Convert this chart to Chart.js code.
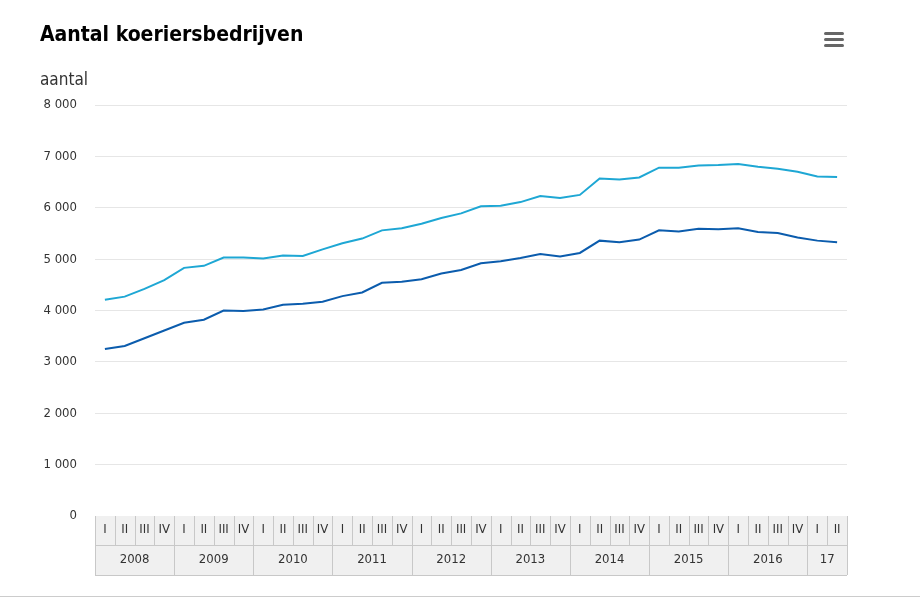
<!DOCTYPE html>
<html><head><meta charset="utf-8">
<script src="https://cdn.jsdelivr.net/npm/chart.js@4"></script>
<style>html,body{margin:0;padding:0;background:#fff}#w{position:relative;width:920px;height:598px}</style>
</head><body><div id="w"><canvas id="c" width="920" height="598"></canvas></div>
<script>
const years = ["2008","2009","2010","2011","2012","2013","2014","2015","2016","17"];
const quarters = ["I","II","III","IV"];
const categories = [];
for (let y=0;y<years.length;y++) for (let q=0;q<4;q++) { if (y===9 && q>1) break; categories.push(years[y]+" "+quarters[q]); }
const seriesUpper = [4210,4270,4420,4590, 4830,4870,5030,5030, 5010,5070,5060,5190, 5310,5400,5560,5600, 5690,5800,5890,6030, 6040,6110,6230,6190, 6250,6570,6550,6590, 6780,6780,6820,6830, 6850,6800,6760,6700, 6610,6600];
const seriesLower = [3250,3310,3460,3610, 3760,3820,4000,3990, 4020,4110,4130,4170, 4280,4350,4540,4560, 4610,4720,4790,4920, 4960,5020,5100,5050, 5120,5360,5330,5380, 5560,5540,5590,5580, 5600,5530,5510,5420, 5360,5330];
const yTicks = [0,1000,2000,3000,4000,5000,6000,7000,8000];
const F = "'DejaVu Sans Condensed','DejaVu Sans', sans-serif";
const deco = {
  id:'deco',
  afterDraw(ch){
    const c=ch.ctx, x=ch.scales.x, a=ch.chartArea;
    c.save();
    c.fillStyle='#000'; c.font="bold 21px "+F; c.textBaseline='middle'; c.textAlign='left';
    c.fillText('Aantal koeriersbedrijven',40,36);
    c.font="17px "+F; c.fillStyle='#333'; c.fillText('aantal',40,81);
    c.fillStyle='#666';
    for(let i=0;i<3;i++){ c.beginPath(); c.roundRect(824,32+i*6,20,3,1.5); c.fill(); }
    const w = x.getPixelForValue(1)-x.getPixelForValue(0);
    const top=a.bottom, mid=545, bot=575;
    c.fillStyle='#f0f0f0'; c.fillRect(a.left,top,a.right-a.left,bot-top);
    c.strokeStyle='#c8c8c8'; c.lineWidth=1;
    c.font="13px "+F; c.fillStyle='#333'; c.textAlign='center';
    categories.forEach((cat,i)=>{
      const cx=x.getPixelForValue(i), l=cx-w/2;
      c.beginPath(); c.moveTo(Math.round(l)+0.5,top); c.lineTo(Math.round(l)+0.5,mid); c.stroke();
      c.fillText(quarters[i%4],cx,top+14);
    });
    let yi=0;
    for(let i=0;i<categories.length;i+=4){
      const n=Math.min(4,categories.length-i);
      const l=x.getPixelForValue(i)-w/2, r=x.getPixelForValue(i+n-1)+w/2;
      c.beginPath(); c.moveTo(Math.round(l)+0.5,mid); c.lineTo(Math.round(l)+0.5,bot); c.stroke();
      c.fillText(years[yi++],(l+r)/2,mid+15);
    }
    c.beginPath(); c.moveTo(a.right+0.5,top); c.lineTo(a.right+0.5,bot); c.stroke();
    c.beginPath(); c.moveTo(a.left,mid+0.5); c.lineTo(a.right,mid+0.5); c.moveTo(a.left,bot+0.5); c.lineTo(a.right,bot+0.5); c.stroke();
    c.strokeStyle='#ccc'; c.beginPath(); c.moveTo(0,596.5); c.lineTo(920,596.5); c.stroke();
    c.restore();
  }
};
new Chart(document.getElementById('c'),{
  type:'line',
  data:{labels:categories,datasets:[
    {data:seriesUpper,borderColor:'#1ea7d4',borderWidth:2,pointRadius:0,tension:0},
    {data:seriesLower,borderColor:'#0b5cad',borderWidth:2,pointRadius:0,tension:0}
  ]},
  options:{responsive:false,animation:false,
    layout:{padding:{top:105,bottom:74,left:0,right:73}},
    plugins:{legend:{display:false},tooltip:{enabled:false}},
    scales:{
      x:{offset:true,ticks:{display:false},grid:{display:false},border:{display:false}},
      y:{min:0,max:8000,afterFit:s=>{s.width=95;},afterBuildTicks:s=>{s.ticks=yTicks.map(v=>({value:v}));},
        ticks:{padding:18,color:'#333',font:{family:F,size:13},callback:v=>v>=1000?String(v).replace(/(\d)(\d{3})$/,'$1 $2'):String(v)},
        grid:{color:'#e6e6e6',drawTicks:false},border:{display:false}}
    }
  },
  plugins:[deco]
});
</script></body></html>
